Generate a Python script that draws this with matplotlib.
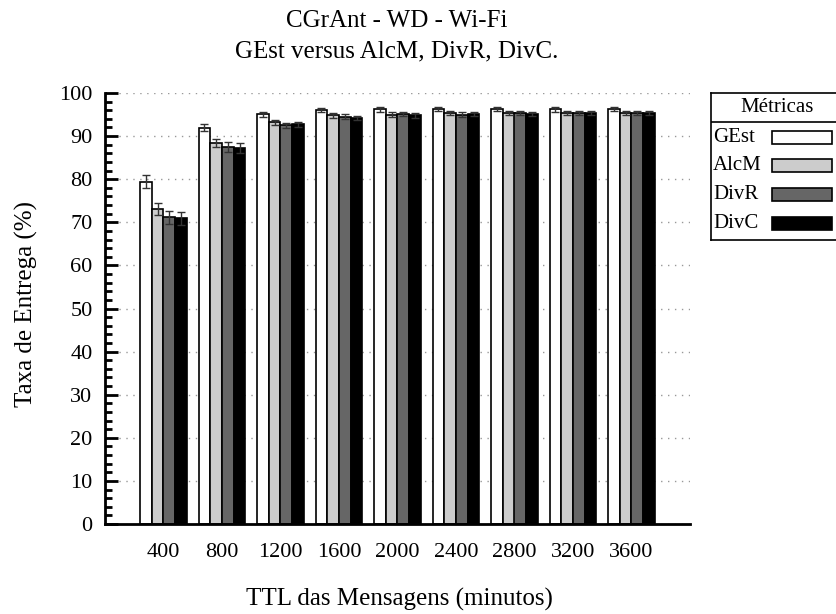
import matplotlib
matplotlib.use("Agg")
import matplotlib.pyplot as plt
import numpy as np
from matplotlib.patches import Rectangle

plt.rcParams['font.family'] = ['Liberation Serif', 'DejaVu Serif']

ttl = ['400', '800', '1200', '1600', '2000', '2400', '2800', '3200', '3600']
series = ['GEst', 'AlcM', 'DivR', 'DivC']
gest = [79.4, 91.9, 95.1, 96.0, 96.2, 96.3, 96.3, 96.2, 96.3]
alcm = [73.1, 88.4, 93.2, 94.8, 95.0, 95.3, 95.3, 95.3, 95.4]
divr = [71.2, 87.5, 92.5, 94.5, 95.1, 95.0, 95.4, 95.4, 95.4]
divc = [70.9, 87.2, 92.7, 94.2, 94.8, 95.1, 95.1, 95.4, 95.4]
err_gest = [1.5, 0.8, 0.6, 0.5, 0.5, 0.5, 0.5, 0.5, 0.4]
err_alcm = [1.4, 1.0, 0.6, 0.6, 0.6, 0.5, 0.5, 0.5, 0.5]
err_divr = [1.5, 1.2, 0.6, 0.6, 0.5, 0.5, 0.5, 0.5, 0.5]
err_divc = [1.5, 1.2, 0.5, 0.5, 0.5, 0.5, 0.5, 0.5, 0.5]
colors = ['#ffffff', '#cccccc', '#666666', '#000000']

values = [gest, alcm, divr, divc]
errors = [err_gest, err_alcm, err_divr, err_divc]

fig = plt.figure(figsize=(8.37, 6.14), dpi=100)
ax = fig.add_axes([105/837, 1-524/614, 585/837, 431/614])

x = np.arange(len(ttl))
w = 0.2
for i, (v, e, c) in enumerate(zip(values, errors, colors)):
    pos = x + (i - 1.5) * w
    ax.bar(pos, v, width=w, color=c, edgecolor='black', linewidth=1.2, zorder=2)
    ax.errorbar(pos, v, yerr=e, fmt='none', ecolor='#333333', elinewidth=1,
                capsize=3, capthick=1, zorder=3)

ax.set_xlim(-1, 9)
ax.set_ylim(0, 100)
ax.set_yticks(np.arange(0, 101, 10))
ax.set_yticks(np.arange(0, 101, 2), minor=True)
ax.set_xticks(x)
ax.set_xticklabels(ttl)
ax.tick_params(axis='y', which='major', direction='in', length=9, width=2, labelsize=16, pad=9)
ax.tick_params(axis='y', which='minor', direction='in', length=5, width=2)
ax.tick_params(axis='x', length=0, labelsize=16, pad=14)
ax.yaxis.grid(True, which='major', linestyle=(0, (1, 4)), color='#999999', linewidth=1, zorder=0)
ax.set_axisbelow(True)
for s in ['top', 'right']:
    ax.spines[s].set_visible(False)
ax.spines['left'].set_linewidth(2)
ax.spines['bottom'].set_linewidth(2)

fig.text(26/837, 1 - 304/614, 'Taxa de Entrega (%)', rotation=90, ha='center', va='center', fontsize=18)
fig.text(399/837, 1 - 599/614, 'TTL das Mensagens (minutos)', ha='center', va='center', fontsize=18)
fig.text(397/837, 1 - 21/614, 'CGrAnt - WD - Wi-Fi', ha='center', va='center', fontsize=18)
fig.text(397/837, 1 - 51/614, 'GEst versus AlcM, DivR, DivC.', ha='center', va='center', fontsize=18)

# legend box
lax = fig.add_axes([711/837, 1-240/614, 135/837, 147/614])
lax.set_xlim(711, 846)
lax.set_ylim(240, 93)
lax.set_xticks([]); lax.set_yticks([])
for s in lax.spines.values():
    s.set_linewidth(1.2)
lax.axhline(122.3, color='black', linewidth=1.2)
lax.text(777, 108, 'Métricas', ha='center', va='center', fontsize=15)
ys = [138, 166, 195, 224]
for name, c, yy in zip(series, colors, ys):
    lax.text(713, yy, name, ha='left', va='center', fontsize=15)
    lax.add_patch(Rectangle((772, yy - 6.5), 60, 13, facecolor=c, edgecolor='black', linewidth=1.2))

fig.savefig('out.png', dpi=100)
